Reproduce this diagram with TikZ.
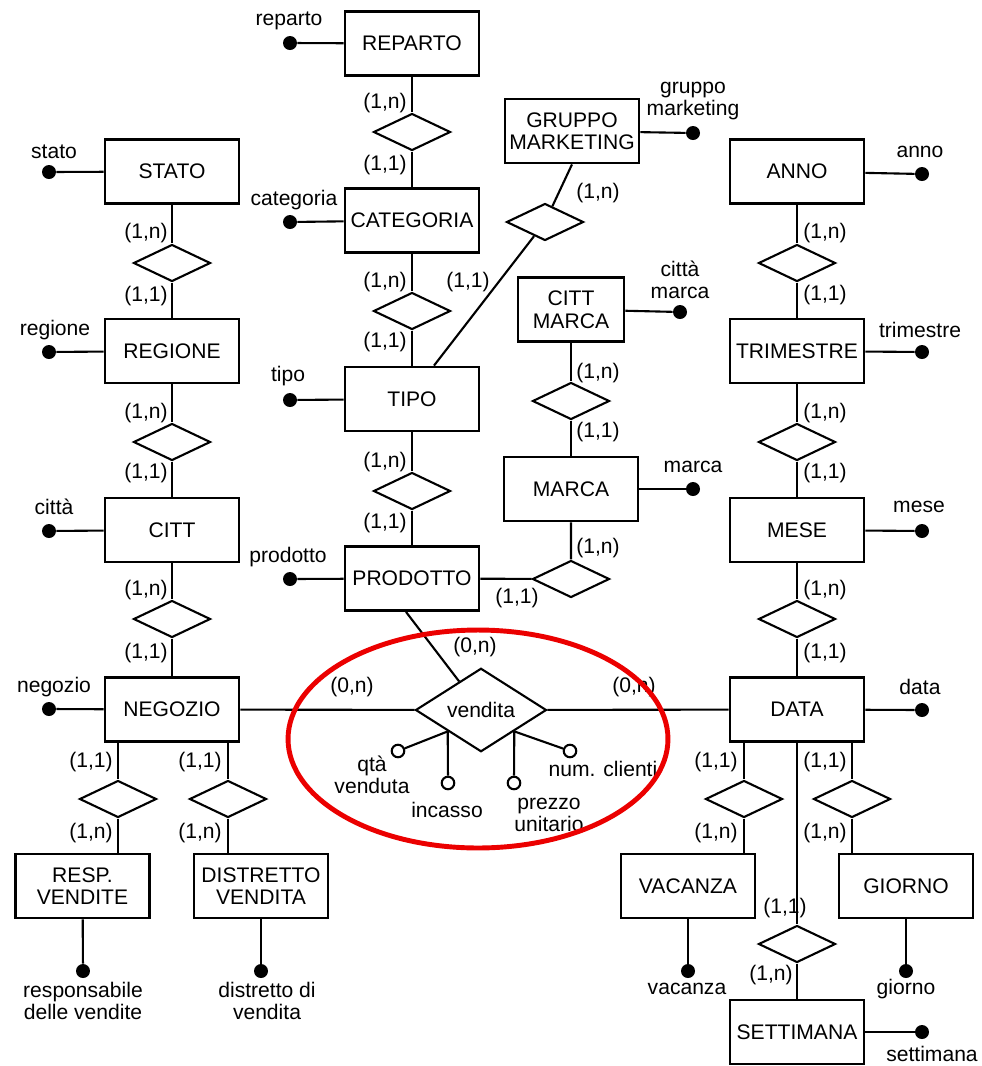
\documentclass[tikz,border=0pt]{standalone}
\usepackage{fontspec}
\setmainfont{Liberation Sans}
\usetikzlibrary{shapes.geometric, calc}
\definecolor{markred}{RGB}{235, 0, 0}

\begin{document}
\begin{tikzpicture}[
  x=0.02cm, y=-0.02cm,
  ent/.style={draw, line width=1.6pt, minimum width=2.68cm, minimum height=1.28cm, inner sep=0pt, align=center, font=\fontsize{12}{12.8}\selectfont},
  rel/.style={draw, diamond, line width=1.2pt, inner sep=0pt, minimum width=1.54cm, minimum height=0.74cm},
  attdot/.style={circle, fill=black, inner sep=0pt, minimum size=0.28cm},
  attopen/.style={circle, draw, fill=white, line width=1.2pt, inner sep=0pt, minimum size=0.25cm},
  lbl/.style={inner sep=0pt, align=center, font=\fontsize{12}{12.8}\selectfont},
  link/.style={line width=1.2pt}
]
  \useasboundingbox (0,0) rectangle (982,1066);

  % entities
  \node[ent] (reparto) at (412, 43.5) {REPARTO};
  \node[ent] (categoria) at (412, 220.5) {CATEGORIA};
  \node[ent] (tipo) at (412, 399) {TIPO};
  \node[ent] (prodotto) at (412, 578.5) {PRODOTTO};
  \node[ent] (stato) at (172, 171.5) {STATO};
  \node[ent] (regione) at (172, 351) {REGIONE};
  \node[ent] (citta) at (172, 530) {CITT};
  \node[ent] (negozio) at (172, 709.5) {NEGOZIO};
  \node[ent] (resp) at (82.5, 886) {RESP.\\VENDITE};
  \node[ent] (distretto) at (261, 886) {DISTRETTO\\VENDITA};
  \node[ent] (gm) at (572, 131) {GRUPPO\\MARKETING};
  \node[ent, minimum width=2.12cm] (cm) at (571, 309.5) {CITT\\MARCA};
  \node[ent] (marca) at (571, 489) {MARCA};
  \node[ent] (anno) at (797, 171.5) {ANNO};
  \node[ent] (trimestre) at (797, 351) {TRIMESTRE};
  \node[ent] (mese) at (797, 530) {MESE};
  \node[ent] (data) at (797, 709.5) {DATA};
  \node[ent] (vacanza) at (688, 886) {VACANZA};
  \node[ent] (giorno) at (906, 886) {GIORNO};
  \node[ent] (settimana) at (797, 1032) {SETTIMANA};

  % relationships
  \node[rel] (r1) at (412, 132) {};
  \node[rel] (r3) at (412, 311) {};
  \node[rel] (r5) at (412, 491) {};
  \node[rel] (r2) at (172, 263) {};
  \node[rel] (r4) at (172, 442) {};
  \node[rel] (r6) at (172, 619) {};
  \node[rel] (rgm) at (545, 222) {};
  \node[rel] (rcm) at (571, 401) {};
  \node[rel] (rpm) at (571, 579) {};
  \node[rel] (ra) at (797, 263) {};
  \node[rel] (rt) at (797, 442) {};
  \node[rel] (rm) at (797, 619) {};
  \node[rel] (rresp) at (118, 799) {};
  \node[rel] (rdist) at (228, 799) {};
  \node[rel] (rvac) at (744, 799) {};
  \node[rel] (rgio) at (852, 799) {};
  \node[rel] (rset) at (797, 944) {};
  \node[rel, minimum width=2.62cm, minimum height=1.54cm, font=\fontsize{12}{12.8}\selectfont] (vendita) at (481, 710) {vendita};

  \draw[link] (reparto) -- (r1) -- (categoria);
  \draw[link] (categoria) -- (r3) -- (tipo);
  \draw[link] (tipo) -- (r5) -- (prodotto);
  \draw[link] (stato) -- (r2) -- (regione);
  \draw[link] (regione) -- (r4) -- (citta);
  \draw[link] (citta) -- (r6) -- (negozio);
  \draw[link] ($(tipo.north)+(22,0)$) -- (rgm) -- (gm.south);
  \draw[link] (cm) -- (rcm) -- (marca);
  \draw[link] (prodotto) -- (rpm) -- (marca);
  \draw[link] (anno) -- (ra) -- (trimestre);
  \draw[link] (trimestre) -- (rt) -- (mese);
  \draw[link] (mese) -- (rm) -- (data);
  \draw[link] (negozio) -- (vendita) -- (data);
  \draw[link] ($(prodotto.south)+(-6,0)$) -- (vendita);
  \draw[link] (negozio.south -| rresp) -- (rresp) -- (resp.north -| rresp);
  \draw[link] (negozio.south -| rdist) -- (rdist) -- (distretto.north -| rdist);
  \draw[link] (data.south -| rvac) -- (rvac) -- (vacanza.north -| rvac);
  \draw[link] (data.south -| rgio) -- (rgio) -- (giorno.north -| rgio);
  \draw[link] (data) -- (rset) -- (settimana);

  % cardinalities
  \node[lbl] (c1) at (385, 103) {(1,n)};
  \node[lbl] (c2) at (385, 165) {(1,1)};
  \node[lbl] (c3) at (385, 282) {(1,n)};
  \node[lbl] (c4) at (385, 342) {(1,1)};
  \node[lbl] (c5) at (385, 462) {(1,n)};
  \node[lbl] (c6) at (385, 523) {(1,1)};
  \node[lbl] (c7) at (468, 282) {(1,1)};
  \node[lbl] (c8) at (598, 193) {(1,n)};
  \node[lbl] (c9) at (146, 233) {(1,n)};
  \node[lbl] (c10) at (146, 296) {(1,1)};
  \node[lbl] (c11) at (146, 413) {(1,n)};
  \node[lbl] (c12) at (146, 473) {(1,1)};
  \node[lbl] (c13) at (146, 590) {(1,n)};
  \node[lbl] (c14) at (146, 653) {(1,1)};
  \node[lbl] (c15) at (825, 233) {(1,n)};
  \node[lbl] (c16) at (825, 295) {(1,1)};
  \node[lbl] (c17) at (825, 413) {(1,n)};
  \node[lbl] (c18) at (825, 473) {(1,1)};
  \node[lbl] (c19) at (825, 590) {(1,n)};
  \node[lbl] (c20) at (825, 653) {(1,1)};
  \node[lbl] (c21) at (598, 373) {(1,n)};
  \node[lbl] (c22) at (598, 432) {(1,1)};
  \node[lbl] (c23) at (598, 548) {(1,n)};
  \node[lbl] (c24) at (517, 598) {(1,1)};
  \node[lbl] (c25) at (91, 762) {(1,1)};
  \node[lbl] (c26) at (91, 833) {(1,n)};
  \node[lbl] (c27) at (200, 762) {(1,1)};
  \node[lbl] (c28) at (200, 833) {(1,n)};
  \node[lbl] (c29) at (716, 762) {(1,1)};
  \node[lbl] (c30) at (716, 833) {(1,n)};
  \node[lbl] (c31) at (825, 762) {(1,1)};
  \node[lbl] (c32) at (825, 833) {(1,n)};
  \node[lbl] (c33) at (785, 908) {(1,1)};
  \node[lbl] (c34) at (771, 975) {(1,n)};
  \node[lbl] (c35) at (475, 647) {(0,n)};
  \node[lbl] (c36) at (352, 687) {(0,n)};
  \node[lbl] (c37) at (634, 687) {(0,n)};

  % attributes
  \node[attdot] (a1) at (290, 43) {};
  \node[attdot] (a2) at (49, 172) {};
  \node[attdot] (a3) at (290, 222) {};
  \node[attdot] (a4) at (49, 352) {};
  \node[attdot] (a5) at (290, 400) {};
  \node[attdot] (a6) at (49, 531) {};
  \node[attdot] (a7) at (290, 579) {};
  \node[attdot] (a8) at (49, 709) {};
  \node[attdot] (a9) at (693, 133) {};
  \node[attdot] (a10) at (922, 174) {};
  \node[attdot] (a11) at (680, 312) {};
  \node[attdot] (a12) at (922, 352) {};
  \node[attdot] (a13) at (693, 489) {};
  \node[attdot] (a14) at (922, 531) {};
  \node[attdot] (a15) at (922, 710) {};
  \node[attdot] (a16) at (83, 971) {};
  \node[attdot] (a17) at (261, 971) {};
  \node[attdot] (a18) at (688, 971) {};
  \node[attdot] (a19) at (906, 971) {};
  \node[attdot] (a20) at (922, 1032) {};

  \draw[link] (reparto) -- (a1);
  \draw[link] (stato) -- (a2);
  \draw[link] (categoria) -- (a3);
  \draw[link] (regione) -- (a4);
  \draw[link] (tipo) -- (a5);
  \draw[link] (citta) -- (a6);
  \draw[link] (prodotto) -- (a7);
  \draw[link] (negozio) -- (a8);
  \draw[link] (gm) -- (a9);
  \draw[link] (anno) -- (a10);
  \draw[link] (cm) -- (a11);
  \draw[link] (trimestre) -- (a12);
  \draw[link] (marca) -- (a13);
  \draw[link] (mese) -- (a14);
  \draw[link] (data) -- (a15);
  \draw[link] (resp) -- (a16);
  \draw[link] (distretto) -- (a17);
  \draw[link] (vacanza) -- (a18);
  \draw[link] (giorno) -- (a19);
  \draw[link] (settimana) -- (a20);

  \node[lbl] (l1) at (289, 21) {reparto};
  \node[lbl] (l2) at (54, 152) {stato};
  \node[lbl] (l3) at (294, 200) {categoria};
  \node[lbl] (l4) at (55, 330) {regione};
  \node[lbl] (l5) at (288, 376) {tipo};
  \node[lbl] (l6) at (54, 507) {città};
  \node[lbl] (l7) at (288, 557) {prodotto};
  \node[lbl] (l8) at (54, 687) {negozio};
  \node[lbl] (l9) at (693, 101) {gruppo\\marketing};
  \node[lbl] (l10) at (920, 152) {anno};
  \node[lbl] (l11) at (680, 280) {città\\marca};
  \node[lbl] (l12) at (920, 330) {trimestre};
  \node[lbl] (l13) at (693, 467) {marca};
  \node[lbl] (l14) at (919, 507) {mese};
  \node[lbl] (l15) at (920, 687) {data};
  \node[lbl] (l16) at (83, 1001) {responsabile\\delle vendite};
  \node[lbl] (l17) at (267, 1001) {distretto di\\vendita};
  \node[lbl] (l18) at (687, 989) {vacanza};
  \node[lbl] (l19) at (906, 989) {giorno};
  \node[lbl] (l20) at (932, 1054) {settimana};

  % attributes of vendita
  \node[attopen] (v1) at (398, 751) {};
  \node[attopen] (v2) at (448, 783) {};
  \node[attopen] (v3) at (514, 783) {};
  \node[attopen] (v4) at (570, 751) {};
  \draw[link] (vendita.south west) -- (v1);
  \draw[link] (vendita.south west) -- (v2);
  \draw[link] (vendita.south east) -- (v3);
  \draw[link] (vendita.south east) -- (v4);
  \node[lbl] (lv1) at (372, 775) {qtà\\venduta};
  \node[lbl] (lv2) at (447, 810) {incasso};
  \node[lbl] (lv3) at (549, 815) {prezzo\\unitario};
  \node[lbl] (lv4) at (603, 769) {num. clienti};

  \draw[markred, line width=2.8pt] (478, 739) ellipse [x radius=3.8cm, y radius=2.18cm];
\end{tikzpicture}
\end{document}
